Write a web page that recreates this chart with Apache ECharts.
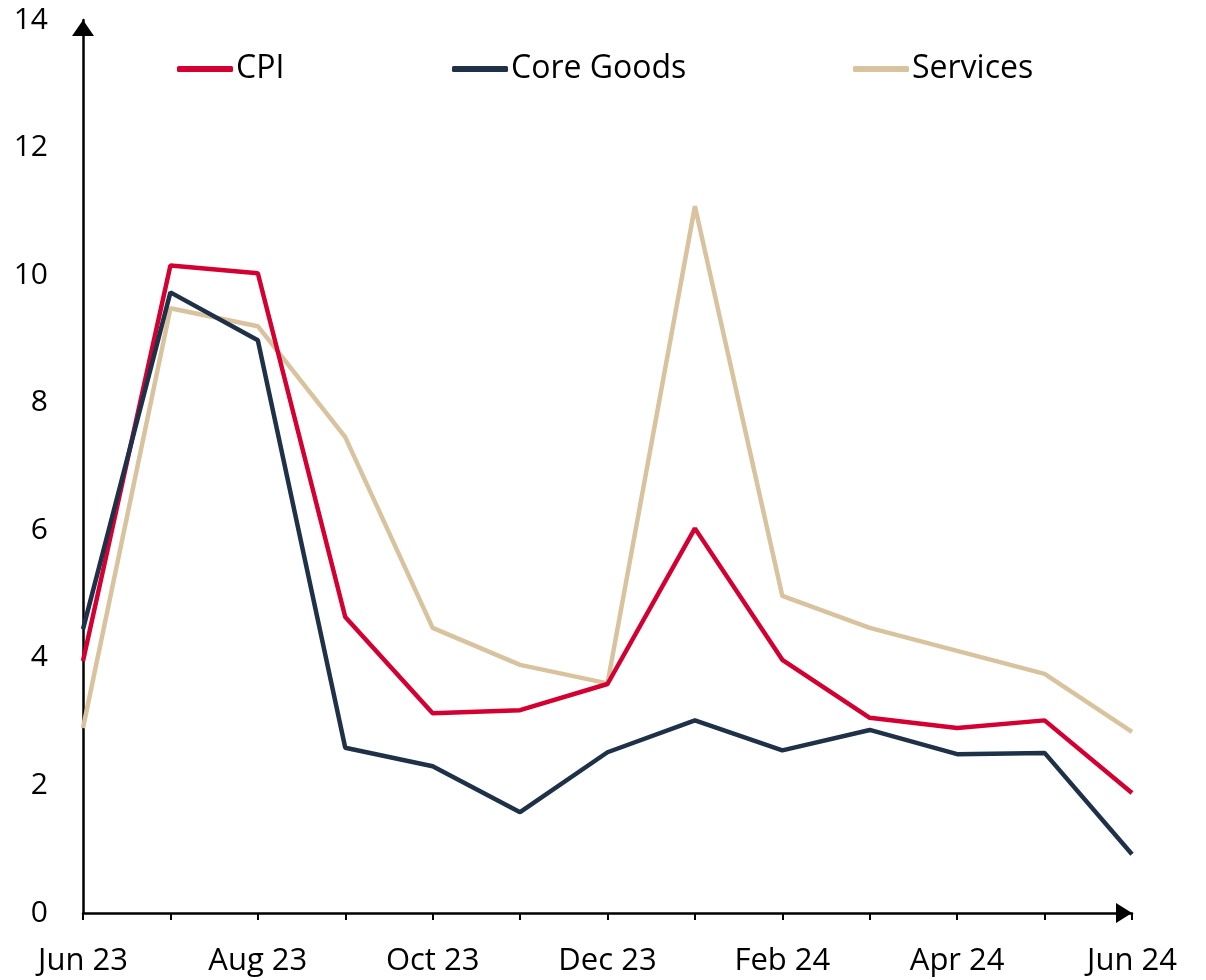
<!DOCTYPE html>
<html>
<head>
<meta charset="utf-8">
<script src="https://cdn.jsdelivr.net/npm/echarts@6/dist/echarts.min.js"></script>
<style>
  html, body { margin: 0; padding: 0; background: #fff; }
  #c1 { width: 1206px; height: 980px; }
</style>
</head>
<body>
<div id="c1"></div>
<script>
// 月份
let months = ["Jun 23", "Jul 23", "Aug 23", "Sep 23", "Oct 23", "Nov 23", "Dec 23",
  "Jan 24", "Feb 24", "Mar 24", "Apr 24", "May 24", "Jun 24"];
let cpi = [3.95, 10.15, 10.03, 4.64, 3.13, 3.18, 3.59, 6.03, 3.97, 3.06, 2.9, 3.02, 1.88];
let coreGoods = [4.45, 9.73, 8.98, 2.59, 2.3, 1.58, 2.52, 3.02, 2.55, 2.87, 2.49, 2.51, 0.92];
let services = [2.9, 9.48, 9.2, 7.46, 4.47, 3.89, 3.6, 11.08, 4.97, 4.47, 4.11, 3.75, 2.84];

let font = "Open Sans";
let myChart = echarts.init(document.getElementById("c1"));

function legendAt(left, name) {
  return {
    left: left,
    top: 53,
    padding: 0,
    icon: "roundRect",
    itemWidth: 56,
    itemHeight: 6,
    data: [name],
    textStyle: { fontFamily: font, fontSize: 32, color: "#000", padding: [0, 0, 0, -2] },
  };
}

let option = {
  animation: false,
  legend: [legendAt(177, "CPI"), legendAt(452, "Core Goods"), legendAt(853, "Services")],
  grid: { left: 83, right: 74, top: 20, bottom: 67 },
  xAxis: {
    type: "category",
    boundaryGap: false,
    data: months,
    axisLine: {
      lineStyle: { color: "#000", width: 2.5 },
      symbol: ["none", "triangle"],
      symbolSize: [20, 16],
      symbolOffset: [0, -8],
    },
    axisTick: { show: true, interval: 0, length: 7, lineStyle: { color: "#000", width: 2 } },
    axisLabel: {
      interval: 1,
      margin: 33,
      fontFamily: font,
      fontSize: 31,
      color: "#000",
    },
    splitLine: { show: false },
  },
  yAxis: {
    type: "value",
    min: 0,
    max: 14,
    interval: 2,
    axisLine: {
      show: true,
      lineStyle: { color: "#000", width: 2.5 },
      symbol: ["none", "triangle"],
      symbolSize: [22, 16],
      symbolOffset: [0, -8],
    },
    axisTick: { show: false },
    axisLabel: { margin: 35, fontFamily: font, fontSize: 30, color: "#000" },
    splitLine: { show: false },
  },
  series: [
    {
      name: "Services",
      type: "line",
      data: services,
      showSymbol: false,
      color: "#d8c39e",
      lineStyle: { width: 4.5 },
      z: 2,
    },
    {
      name: "CPI",
      type: "line",
      data: cpi,
      showSymbol: false,
      color: "#d50032",
      lineStyle: { width: 4.5 },
      z: 3,
    },
    {
      name: "Core Goods",
      type: "line",
      data: coreGoods,
      showSymbol: false,
      color: "#1e3148",
      lineStyle: { width: 4.5 },
      z: 4,
    },
  ],
};
myChart.setOption(option);
</script>
</body>
</html>
